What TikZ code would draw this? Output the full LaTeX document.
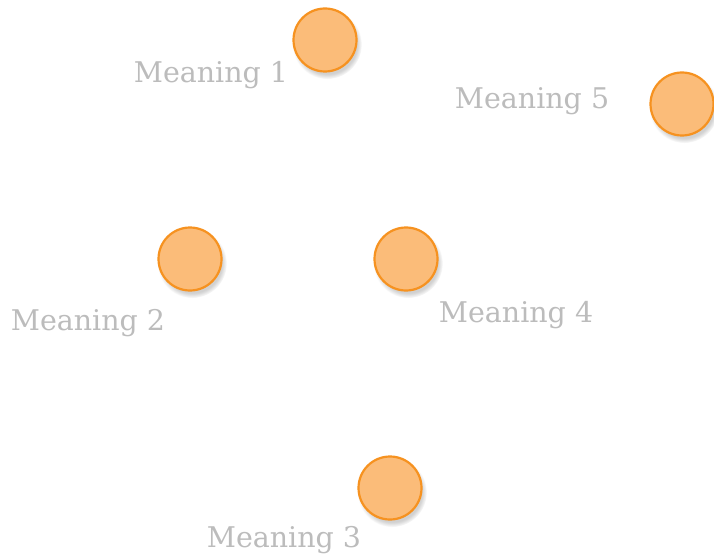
\documentclass[tikz,border=0pt]{standalone}
\usepackage{fontspec}
\setmainfont{DejaVu Serif}
\usetikzlibrary{shadows}
\definecolor{dotfill}{RGB}{251,188,121}
\definecolor{dotedge}{RGB}{246,146,32}
\definecolor{lbl}{RGB}{188,188,188}
\begin{document}
\begin{tikzpicture}[x=1pt,y=-1pt,
  dot/.style={circle,minimum size=63pt,inner sep=0pt,fill=dotfill,draw=dotedge,line width=2.2pt,
    circular drop shadow={shadow xshift=2pt,shadow yshift=-4pt,opacity=0.3,fill=black!60}},
  lab/.style={text=lbl,font=\fontsize{28.5}{33}\selectfont,inner sep=0pt}]
\useasboundingbox (0,0) rectangle (714,556);
\node[dot] (d1) at (325,40) {};
\node[dot] (d5) at (682,104) {};
\node[dot] (d2) at (190,259) {};
\node[dot] (d4) at (406,259) {};
\node[dot] (d3) at (390,488) {};
\node[lab] (l1) at (211,75) {Meaning 1};
\node[lab] (l5) at (532,101) {Meaning 5};
\node[lab] (l2) at (88,323) {Meaning 2};
\node[lab] (l4) at (516,315) {Meaning 4};
\node[lab] (l3) at (284,540) {Meaning 3};
\end{tikzpicture}
\end{document}
